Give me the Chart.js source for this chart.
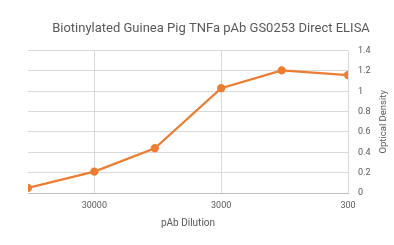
<!DOCTYPE html>
<html>
<head>
<meta charset="utf-8">
<script src="https://cdn.jsdelivr.net/npm/chart.js@4"></script>
<style>
    html, body { margin: 0; padding: 0; background: #ffffff; }
    #wrap { width: 394px; height: 245px; }
</style>
</head>
<body>
<div id="wrap"><canvas id="elisa"></canvas></div>
<script>
// dilution factors (x, log axis, reversed) and measured optical density
const dilutions = [100000, 30000, 10000, 3000, 1000, 300];
const opticalDensity = [0.05, 0.21, 0.44, 1.03, 1.205, 1.16];
const xTickValues = [30000, 3000, 300];
const yTickStep = 0.2;

const textColor = "#595959";
const fontFamily = "Roboto, 'Liberation Sans', sans-serif";

// y title reads bottom-to-top on the right, which Chart.js does not do itself
const rightTitle = {
    id: "rightTitle",
    afterDraw: function (chart) {
        const c = chart.ctx;
        const area = chart.chartArea;
        c.save();
        c.translate(384, (area.top + area.bottom) / 2);
        c.rotate(-Math.PI / 2);
        c.fillStyle = textColor;
        c.font = "9.5px " + fontFamily;
        c.textAlign = "center";
        c.textBaseline = "middle";
        c.fillText("Optical Density", 0, 0);
        c.restore();
    }
};

const ctx = document.getElementById("elisa").getContext("2d");

new Chart(ctx, {
    type: "line",
    data: {
        datasets: [{
            label: "OD",
            data: dilutions.map(function (d, i) {
                return { x: d, y: opticalDensity[i] };
            }),
            borderColor: "#ED7D31",
            backgroundColor: "#ED7D31",
            borderWidth: 2.25,
            pointRadius: 3,
            pointHoverRadius: 3,
            tension: 0,
            fill: false
        }]
    },
    options: {
        responsive: true,
        maintainAspectRatio: false,
        animation: false,
        layout: {
            padding: { left: 28, right: 0, top: 0, bottom: 0 }
        },
        plugins: {
            legend: { display: false },
            tooltip: { enabled: false },
            title: {
                display: true,
                text: "Biotinylated Guinea Pig TNFa pAb GS0253 Direct ELISA",
                color: textColor,
                font: { family: fontFamily, size: 13, weight: "normal" },
                padding: { top: 21, bottom: 14 }
            }
        },
        scales: {
            x: {
                type: "logarithmic",
                reverse: true,
                min: 300,
                max: 100000,
                afterBuildTicks: function (scale) {
                    scale.ticks = xTickValues.map(function (v) {
                        return { value: v };
                    });
                },
                afterFit: function (scale) {
                    scale.height = 52;
                },
                ticks: {
                    color: textColor,
                    font: { family: fontFamily, size: 9 },
                    maxRotation: 0,
                    autoSkip: false,
                    padding: 7,
                    callback: function (value) {
                        return String(value);
                    }
                },
                grid: {
                    color: "#d9d9d9",
                    drawTicks: false
                },
                border: { display: true, color: "#bfbfbf" },
                title: {
                    display: true,
                    text: "pAb Dilution",
                    color: textColor,
                    font: { family: fontFamily, size: 10 },
                    padding: { top: 0, bottom: 16 }
                }
            },
            y: {
                position: "right",
                min: 0,
                max: 1.4,
                afterFit: function (scale) {
                    scale.width = 46;
                },
                ticks: {
                    stepSize: yTickStep,
                    color: textColor,
                    font: { family: fontFamily, size: 9 },
                    padding: 10,
                    callback: function (value) {
                        return Math.round(value * 10) / 10;
                    }
                },
                grid: {
                    color: "#d9d9d9",
                    drawTicks: false
                },
                border: { display: false }
            }
        }
    },
    plugins: [rightTitle]
});
</script>
</body>
</html>
